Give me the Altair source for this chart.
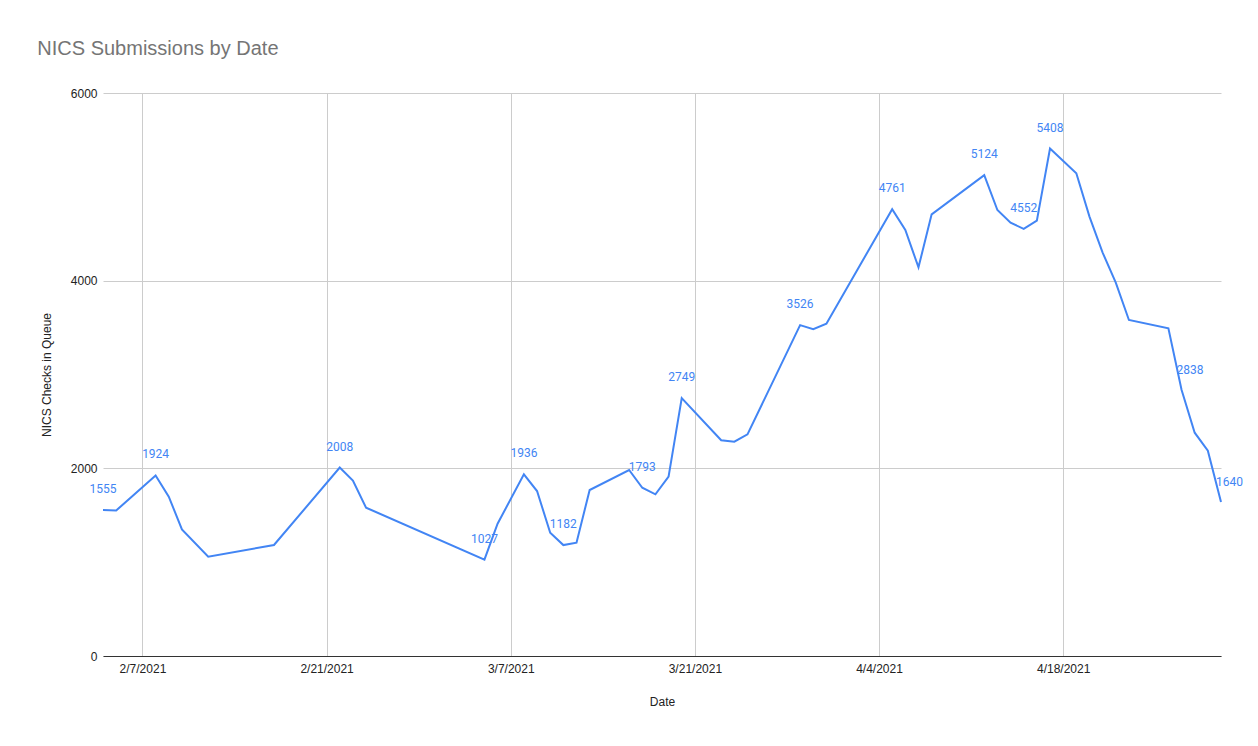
import altair as alt
import pandas as pd

dates = ["2021-02-04", "2021-02-05", "2021-02-08", "2021-02-09", "2021-02-10",
         "2021-02-12", "2021-02-17", "2021-02-22", "2021-02-23", "2021-02-24",
         "2021-03-05", "2021-03-06", "2021-03-08", "2021-03-09", "2021-03-10",
         "2021-03-11", "2021-03-12", "2021-03-13", "2021-03-16", "2021-03-17",
         "2021-03-18", "2021-03-19", "2021-03-20", "2021-03-23", "2021-03-24",
         "2021-03-25", "2021-03-29", "2021-03-30", "2021-03-31", "2021-04-05",
         "2021-04-06", "2021-04-07", "2021-04-08", "2021-04-12", "2021-04-13",
         "2021-04-14", "2021-04-15", "2021-04-16", "2021-04-17", "2021-04-19",
         "2021-04-20", "2021-04-21", "2021-04-22", "2021-04-23", "2021-04-26",
         "2021-04-27", "2021-04-28", "2021-04-29", "2021-04-30"]
checks = [1555, 1550, 1924, 1698, 1350, 1058, 1183, 2008, 1869, 1581,
          1027, 1410, 1936, 1758, 1314, 1182, 1208, 1769, 1982, 1793,
          1723, 1911, 2749, 2299, 2284, 2362, 3526, 3482, 3542, 4761,
          4540, 4142, 4707, 5124, 4753, 4618, 4552, 4640, 5408, 5144,
          4683, 4299, 3979, 3581, 3492, 2838, 2380, 2188, 1640]

# points that carry a value label, and the ones whose label sits to the right
labeled = ["2021-02-04", "2021-02-08", "2021-02-22", "2021-03-05", "2021-03-08",
           "2021-03-11", "2021-03-17", "2021-03-20", "2021-03-29", "2021-04-05",
           "2021-04-12", "2021-04-15", "2021-04-17", "2021-04-27", "2021-04-30"]
left_aligned = ["2021-04-27", "2021-04-30"]

tick_dates = [(2, 7), (2, 21), (3, 7), (3, 21), (4, 4), (4, 18)]

df = pd.DataFrame({"Date": dates, "Checks": checks})
df["label"] = [str(v) if d in labeled else "" for d, v in zip(dates, checks)]
df["side"] = ["left" if d in left_aligned else "center" for d in dates]

BLUE = "#4285F4"

x = alt.X("Date:T", title="Date",
          scale=alt.Scale(type="utc",
                          domain=[alt.DateTime(year=2021, month=2, date=4, utc=True),
                                  alt.DateTime(year=2021, month=4, date=30, utc=True)]),
          axis=alt.Axis(values=[alt.DateTime(year=2021, month=m, date=d, utc=True)
                                for m, d in tick_dates],
                        format="%-m/%-d/%Y", grid=True, gridColor="#cccccc",
                        domainColor="#333333", ticks=False, labelPadding=7,
                        titlePadding=22, labelColor="#222222"))
y = alt.Y("Checks:Q", title="NICS Checks in Queue",
          scale=alt.Scale(domain=[0, 6000]),
          axis=alt.Axis(values=[0, 2000, 4000, 6000], format="d", domain=False,
                        ticks=False, gridColor="#cccccc", labelPadding=6,
                        titlePadding=17, labelColor="#222222"))

base = alt.Chart(df)

line = base.mark_line(color=BLUE, strokeWidth=2).encode(x=x, y=y)

labels_c = base.transform_filter(
    "datum.label != '' && datum.side == 'center'"
).mark_text(color=BLUE, font="Roboto", fontSize=12, dy=-21, align="center").encode(
    x="Date:T", y="Checks:Q", text="label:N")

labels_l = base.transform_filter(
    "datum.label != '' && datum.side == 'left'"
).mark_text(color=BLUE, font="Roboto", fontSize=12, dy=-20, dx=-5, align="left").encode(
    x="Date:T", y="Checks:Q", text="label:N")

chart = alt.layer(line, labels_c, labels_l).properties(
    width=1118, height=563,
    autosize=alt.AutoSizeParams(type="none"),
    padding={"left": 95, "top": 85, "right": 28, "bottom": 80},
    title=alt.Title("NICS Submissions by Date", anchor="start", frame="bounds",
                    fontSize=20, font="Liberation Sans", fontWeight="normal",
                    color="#757575", offset=28, dx=-3),
).configure_axis(
    labelFont="Liberation Sans", titleFont="Liberation Sans",
    labelFontSize=12, titleFontSize=12, titleFontWeight="normal",
    titleColor="#222222",
).configure_view(stroke=None)

chart.save("out.html", embed_options={"renderer": "svg", "actions": False})
